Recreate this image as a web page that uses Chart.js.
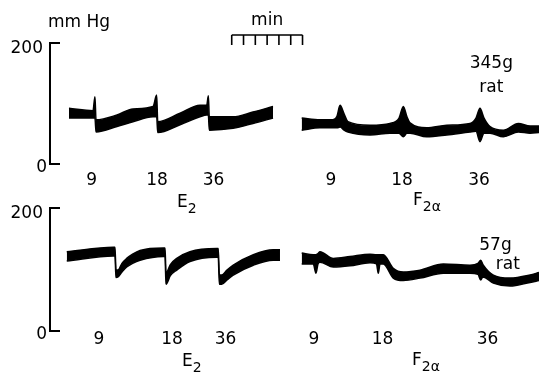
<!DOCTYPE html>
<html>
<head>
<meta charset="utf-8">
<script src="https://cdn.jsdelivr.net/npm/chart.js@4/dist/chart.umd.min.js"></script>
<style>
  body { margin: 0; background: #fff; }
  #wrap { width: 539px; height: 374px; }
</style>
</head>
<body>
<div id="wrap"><canvas id="chart" width="539" height="374"></canvas></div>
<script>
// time in minutes (axis line = 0), pressure in mmHg; null = gap between recordings
const topTime = [1.61, 3.64, 3.81, 3.90, 5.68, 7.03, 8.73, 9.04, 9.13, 11.02, 12.71, 13.28, 13.42, 13.50, 15.51, 17.20, 18.90,
  20.1,
  21.33, 22.88, 23.98, 24.32, 24.58, 24.92, 25.25, 27.12, 28.81, 29.58, 29.94, 30.25, 30.51, 31.92, 33.62, 35.59, 36.10, 36.44, 36.78, 37.29, 38.42, 39.69, 40.68, 41.44];
const topHigh = [92, 88, 111, 73, 81, 91, 95, 114, 70, 84, 97, 97, 113, 78, 78, 86, 95,
  null,
  76, 73, 73, 79, 97, 83, 70, 64, 67, 76, 95, 78, 68, 60, 64, 67, 76, 92, 76, 62, 56, 67, 63, 63];
const topLow = [76, 76, 76, 53, 62, 70, 78, 78, 52, 65, 78, 81, 81, 56, 59, 67, 76,
  null,
  56, 60, 60, 60, 61, 56, 53, 48, 51, 51, 45, 51, 51, 45, 48, 53, 54, 37, 51, 51, 45, 53, 51, 52];

const botTime = [1.42, 5.36, 5.51, 5.59, 5.76, 6.10, 6.50, 7.00, 7.63, 9.60, 9.75, 9.83, 10.20, 10.74, 11.86, 14.13, 14.26, 14.35, 14.55, 15.00, 15.53, 17.23, 18.92, 19.49,
  20.4,
  21.33, 22.31, 22.54, 22.71, 22.88, 24.01, 25.42, 27.12, 27.67, 27.82, 27.97, 28.25, 29.09, 29.94, 31.36, 33.33, 35.59, 36.27, 36.50, 36.69, 37.57, 38.98, 40.68, 41.44];
const botHigh = [129, 136, 136, 99, 99, 110, 118, 125, 131, 135, 135, 94, 108, 118, 129, 134, 134, 91, 91, 99, 107, 124, 132, 132,
  null,
  127, 124, 124, 126, 129, 118, 121, 125, 124, 124, 124, 124, 102, 96, 99, 109, 107, 110, 115, 108, 91, 86, 91, 95];
const botLow = [114, 122, 122, 87, 88, 96, 104, 110, 115, 121, 121, 76, 90, 99, 113, 120, 120, 76, 76, 83, 91, 107, 115, 115,
  null,
  109, 109, 94, 109, 112, 104, 106, 111, 109, 94, 109, 109, 86, 82, 86, 94, 94, 92, 83, 88, 78, 73, 79, 82];

// injection times (min) and doses
const topDoseTimes = [3.52, 9.07, 13.86, 23.81, 29.83, 36.36];
const botDoseTimes = [4.15, 10.34, 14.87, 22.37, 28.18, 37.08];
const doseLabels = ['9', '18', '36', '9', '18', '36'];

const yTicks = [0, 200];
const drugNames = ['E', 'F'];
const drugSubs = ['2', '2α'];
const ratWeights = ['345g', '57g'];
const scaleBarStart = 15.4;
const scaleBarMinutes = 6;

const FONT = '"DejaVu Sans", sans-serif';

function pts(t, v) {
  return t.map((x, i) => ({ x, y: v[i] }));
}

function band(t, v, axis, fill) {
  return {
    data: pts(t, v),
    yAxisID: axis,
    borderColor: '#000',
    backgroundColor: '#000',
    borderWidth: 1.5,
    pointRadius: 0,
    cubicInterpolationMode: 'monotone',
    fill
  };
}

function txt(ctx, s, x, y, size, align) {
  ctx.font = `${size}px ${FONT}`;
  ctx.textAlign = align || 'center';
  ctx.fillText(s, x, y);
}

const annotate = {
  id: 'annotate',
  afterDatasetsDraw(chart) {
    const { ctx, scales: { x, yTop, yBot } } = chart;
    ctx.save();
    ctx.strokeStyle = '#000';
    ctx.fillStyle = '#000';
    ctx.textBaseline = 'alphabetic';
    const x0 = x.getPixelForValue(0);

    // bracket axes with 0 / 200 labels
    [yTop, yBot].forEach(y => {
      const a = y.getPixelForValue(yTicks[1]);
      const b = y.getPixelForValue(yTicks[0]);
      ctx.lineWidth = 2;
      ctx.beginPath();
      ctx.moveTo(x0 + 10, a); ctx.lineTo(x0, a); ctx.lineTo(x0, b); ctx.lineTo(x0 + 10, b);
      ctx.stroke();
      txt(ctx, String(yTicks[1]), x0 - 7, a + 10, 17, 'right');
      txt(ctx, String(yTicks[0]), x0 - 3, b + 8, 17, 'right');
    });

    // dose labels under each trace
    topDoseTimes.forEach((t, i) => txt(ctx, doseLabels[i], x.getPixelForValue(t), yTop.getPixelForValue(0) + 21, 17));
    botDoseTimes.forEach((t, i) => txt(ctx, doseLabels[i], x.getPixelForValue(t), yBot.getPixelForValue(0) + 13, 17));

    // drug names with subscripts
    const drugPos = [
      [[10.76, 207], [30.76, 205]],
      [[11.19, 366], [30.68, 365]]
    ];
    drugPos.forEach(row => row.forEach((p, i) => {
      const px = x.getPixelForValue(p[0]);
      txt(ctx, drugNames[i], px, p[1], 17, 'left');
      const w = ctx.measureText(drugNames[i]).width;
      txt(ctx, drugSubs[i], px + w, p[1] + 6, 14, 'left');
    }));

    // rat weight notes
    txt(ctx, ratWeights[0], x.getPixelForValue(37.4), 68, 17);
    txt(ctx, 'rat', x.getPixelForValue(37.4), 92, 17);
    txt(ctx, ratWeights[1], x.getPixelForValue(37.75), 250, 17);
    txt(ctx, 'rat', x.getPixelForValue(38.8), 269, 17);

    // units
    txt(ctx, 'mm Hg', x0 - 2, 27, 17, 'left');
    const s0 = x.getPixelForValue(scaleBarStart);
    const s1 = x.getPixelForValue(scaleBarStart + scaleBarMinutes);
    txt(ctx, 'min', (s0 + s1) / 2, 25, 17);

    // minute scale bar
    const by = yTop.getPixelForValue(yTicks[1]) - 8;
    ctx.lineWidth = 1.6;
    ctx.beginPath();
    ctx.moveTo(s0, by); ctx.lineTo(s1, by);
    for (let m = 0; m <= scaleBarMinutes; m++) {
      const px = x.getPixelForValue(scaleBarStart + m);
      ctx.moveTo(px, by); ctx.lineTo(px, by + 10);
    }
    ctx.stroke();
    ctx.restore();
  }
};

new Chart(document.getElementById('chart'), {
  type: 'line',
  data: {
    datasets: [
      band(topTime, topHigh, 'yTop', '+1'),
      band(topTime, topLow, 'yTop', false),
      band(botTime, botHigh, 'yBot', '+1'),
      band(botTime, botLow, 'yBot', false)
    ]
  },
  options: {
    responsive: false,
    animation: false,
    layout: { padding: 0 },
    plugins: { legend: { display: false }, tooltip: { enabled: false } },
    scales: {
      x: { type: 'linear', min: -4.237, max: 41.44, display: false },
      yTop: { min: -347.1, max: 271.1, display: false },
      yBot: { min: -69.9, max: 538.2, display: false }
    }
  },
  plugins: [annotate]
});
</script>
</body>
</html>
